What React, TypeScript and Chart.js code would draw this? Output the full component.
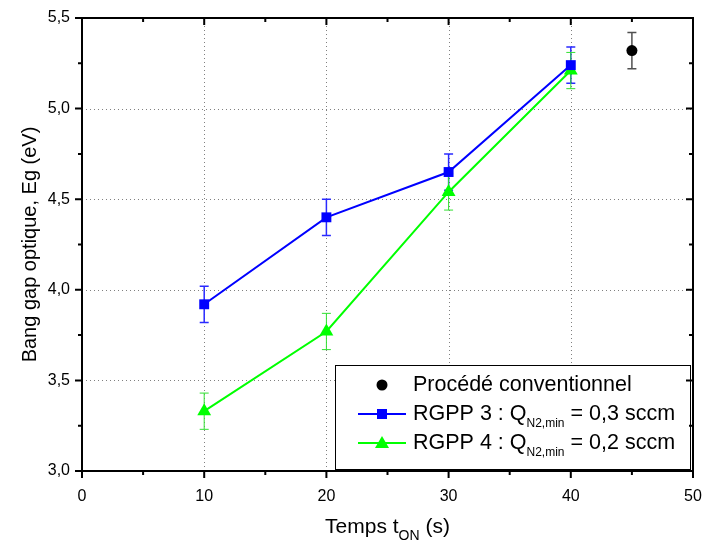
import React, { useEffect, useRef } from 'react';
import { Chart, registerables } from 'chart.js';
Chart.register(...registerables);

// ---- data ----
const temps = [10, 20, 30, 40];
const rgpp3 = [3.92, 4.40, 4.65, 5.24];
const rgpp3Err = [0.10, 0.10, 0.10, 0.10];
const rgpp4 = [3.33, 3.77, 4.54, 5.21];
const rgpp4Err = [0.10, 0.10, 0.10, 0.10];
const convX = [45];
const convY = [5.32];
const convErr = [0.10];

const xMajor = [0, 10, 20, 30, 40, 50];
const xMinor = [5, 15, 25, 35, 45];
const yMajor = [3.0, 3.5, 4.0, 4.5, 5.0, 5.5];
const yMinor = [3.25, 3.75, 4.25, 4.75, 5.25];
const xGrid = [10, 20, 30, 40];
const yGrid = [3.5, 4.0, 4.5, 5.0];

const FONT = '"Liberation Sans", Arial, sans-serif';

type Part = { t: string; sub?: boolean };

function drawRich(ctx: CanvasRenderingContext2D, parts: Part[], x: number, y: number, size: number, subSize: number, subOff: number, align: 'left' | 'center' = 'left') {
  const widths = parts.map((p) => {
    ctx.font = `${p.sub ? subSize : size}px ${FONT}`;
    return ctx.measureText(p.t).width;
  });
  const total = widths.reduce((a, b) => a + b, 0);
  let cx = align === 'center' ? x - total / 2 : x;
  ctx.textBaseline = 'middle';
  ctx.textAlign = 'left';
  parts.forEach((p, i) => {
    ctx.font = `${p.sub ? subSize : size}px ${FONT}`;
    ctx.fillText(p.t, cx, p.sub ? y + subOff : y);
    cx += widths[i];
  });
}

const errorBarPlugin = {
  id: 'errorBars',
  beforeDatasetsDraw(chart: any) {
    const ctx: CanvasRenderingContext2D = chart.ctx;
    const xs = chart.scales.x;
    const ys = chart.scales.y;
    const ca = chart.chartArea;
    // dotted grid
    ctx.save();
    ctx.strokeStyle = '#808080';
    ctx.lineWidth = 1;
    ctx.setLineDash([1, 3]);
    xGrid.forEach((v) => {
      const px = Math.round(xs.getPixelForValue(v)) + 0.5;
      ctx.beginPath();
      ctx.moveTo(px, ca.top);
      ctx.lineTo(px, ca.bottom);
      ctx.stroke();
    });
    yGrid.forEach((v) => {
      const py = Math.round(ys.getPixelForValue(v)) + 0.5;
      ctx.beginPath();
      ctx.moveTo(ca.left, py);
      ctx.lineTo(ca.right, py);
      ctx.stroke();
    });
    ctx.restore();

    const sets = [
      { xv: temps, yv: rgpp3, e: rgpp3Err, color: '#2a2aff', w: 1.5 },
      { xv: temps, yv: rgpp4, e: rgpp4Err, color: '#30e030', w: 1 },
      { xv: convX, yv: convY, e: convErr, color: '#505050', w: 1.5 },
    ];
    ctx.save();
    sets.forEach((s) => {
      ctx.strokeStyle = s.color;
      ctx.lineWidth = s.w;
      s.xv.forEach((xv, i) => {
        const px = xs.getPixelForValue(xv);
        const top = ys.getPixelForValue(s.yv[i] + s.e[i]);
        const bot = ys.getPixelForValue(s.yv[i] - s.e[i]);
        ctx.beginPath();
        ctx.moveTo(px, top);
        ctx.lineTo(px, bot);
        ctx.moveTo(px - 4.5, top);
        ctx.lineTo(px + 4.5, top);
        ctx.moveTo(px - 4.5, bot);
        ctx.lineTo(px + 4.5, bot);
        ctx.stroke();
      });
    });
    ctx.restore();
  },
  afterDraw(chart: any) {
    const ctx: CanvasRenderingContext2D = chart.ctx;
    const xs = chart.scales.x;
    const ys = chart.scales.y;
    const ca = chart.chartArea;

    // legend
    const lx = 335, ly = 365, lw = 355, lh = 104;
    ctx.save();
    ctx.fillStyle = '#ffffff';
    ctx.fillRect(lx, ly, lw, lh);
    ctx.strokeStyle = '#000';
    ctx.lineWidth = 1;
    ctx.strokeRect(lx + 0.5, ly + 0.5, lw, lh);
    const symX = 382;
    const textX = 413;
    const rows = [385, 414, 443];
    // row 1: circle
    ctx.fillStyle = '#000';
    ctx.beginPath();
    ctx.arc(symX, rows[0], 5.5, 0, Math.PI * 2);
    ctx.fill();
    // row 2: blue line + square
    ctx.strokeStyle = '#0000ff';
    ctx.lineWidth = 2;
    ctx.beginPath();
    ctx.moveTo(358, rows[1]);
    ctx.lineTo(406, rows[1]);
    ctx.stroke();
    ctx.fillStyle = '#0000ff';
    ctx.fillRect(symX - 5, rows[1] - 5, 10, 10);
    // row 3: green line + triangle
    ctx.strokeStyle = '#00ff00';
    ctx.beginPath();
    ctx.moveTo(358, rows[2]);
    ctx.lineTo(406, rows[2]);
    ctx.stroke();
    ctx.fillStyle = '#00ff00';
    ctx.beginPath();
    ctx.moveTo(symX, rows[2] - 7);
    ctx.lineTo(symX + 7, rows[2] + 5);
    ctx.lineTo(symX - 7, rows[2] + 5);
    ctx.closePath();
    ctx.fill();

    ctx.fillStyle = '#000';
    drawRich(ctx, [{ t: 'Procédé conventionnel' }], textX, rows[0], 21.5, 12, 10);
    drawRich(ctx, [{ t: 'RGPP 3 : Q' }, { t: 'N2,min', sub: true }, { t: ' = 0,3 sccm' }], textX, rows[1], 21.5, 12, 10);
    drawRich(ctx, [{ t: 'RGPP 4 : Q' }, { t: 'N2,min', sub: true }, { t: ' = 0,2 sccm' }], textX, rows[2], 21.5, 12, 10);
    ctx.restore();

    // frame
    ctx.save();
    ctx.strokeStyle = '#000';
    ctx.lineWidth = 2;
    ctx.strokeRect(ca.left, ca.top, ca.right - ca.left, ca.bottom - ca.top);
    ctx.lineWidth = 2;
    const tickX = (v: number, len: number) => {
      const px = xs.getPixelForValue(v);
      ctx.beginPath();
      ctx.moveTo(px, ca.bottom);
      ctx.lineTo(px, ca.bottom + len);
      ctx.moveTo(px, ca.top);
      ctx.lineTo(px, ca.top + len);
      ctx.stroke();
    };
    const tickY = (v: number, len: number) => {
      const py = ys.getPixelForValue(v);
      ctx.beginPath();
      ctx.moveTo(ca.left, py);
      ctx.lineTo(ca.left - len, py);
      ctx.moveTo(ca.right, py);
      ctx.lineTo(ca.right - len, py);
      ctx.stroke();
    };
    xMajor.forEach((v) => tickX(v, 7));
    xMinor.forEach((v) => tickX(v, 4));
    yMajor.forEach((v) => tickY(v, 7));
    yMinor.forEach((v) => tickY(v, 4));
    ctx.restore();

    // axis titles
    ctx.save();
    ctx.fillStyle = '#000';
    drawRich(ctx, [{ t: 'Temps t' }, { t: 'ON', sub: true }, { t: ' (s)' }], (ca.left + ca.right) / 2, 527, 21, 14, 9, 'center');
    ctx.translate(30, (ca.top + ca.bottom) / 2);
    ctx.rotate(-Math.PI / 2);
    drawRich(ctx, [{ t: 'Bang gap optique, Eg (eV)' }], 0, 0, 20, 12, 0, 'center');
    ctx.restore();
  },
};

export default function App() {
  const ref = useRef<HTMLCanvasElement | null>(null);
  useEffect(() => {
    if (!ref.current) return;
    const chart = new Chart(ref.current, {
      type: 'line',
      data: {
        datasets: [
          {
            label: 'RGPP 3',
            data: temps.map((x, i) => ({ x, y: rgpp3[i] })),
            borderColor: '#0000ff',
            backgroundColor: '#0000ff',
            borderWidth: 2,
            pointStyle: 'rect',
            pointRadius: 7,
            pointBorderWidth: 0,
          },
          {
            label: 'RGPP 4',
            data: temps.map((x, i) => ({ x, y: rgpp4[i] })),
            borderColor: '#00ff00',
            backgroundColor: '#00ff00',
            borderWidth: 2,
            pointStyle: 'triangle',
            pointRadius: 8,
            pointBorderWidth: 0,
          },
          {
            label: 'Procédé conventionnel',
            data: convX.map((x, i) => ({ x, y: convY[i] })),
            borderColor: '#000000',
            backgroundColor: '#000000',
            showLine: false,
            pointStyle: 'circle',
            pointRadius: 5.5,
            pointBorderWidth: 0,
          },
        ],
      },
      options: {
        animation: false,
        responsive: false,
        devicePixelRatio: 1,
        layout: { padding: { left: 0, right: 12, top: 18, bottom: 0 } },
        plugins: { legend: { display: false }, tooltip: { enabled: false } },
        scales: {
          x: {
            type: 'linear',
            min: 0,
            max: 50,
            grid: { display: false, drawTicks: true, tickLength: 14 },
            border: { display: false },
            ticks: {
              stepSize: 10,
              padding: 2,
              color: '#000',
              font: { family: FONT, size: 16 },
            },
            afterFit: (s: any) => { s.height = 78; },
          },
          y: {
            type: 'linear',
            min: 3,
            max: 5.5,
            grid: { display: false, drawTicks: true, tickLength: 10 },
            border: { display: false },
            ticks: {
              stepSize: 0.5,
              padding: 2,
              color: '#000',
              font: { family: FONT, size: 16 },
              callback: (v: any) => Number(v).toFixed(1).replace('.', ','),
            },
            afterFit: (s: any) => { s.width = 82; },
          },
        },
      },
      plugins: [errorBarPlugin],
    });
    return () => chart.destroy();
  }, []);
  return (
    <div style={{ position: 'fixed', left: 0, top: 0, width: 705, height: 549, background: '#fff' }}>
      <canvas ref={ref} width={705} height={549} style={{ width: 705, height: 549 }} />
    </div>
  );
}
